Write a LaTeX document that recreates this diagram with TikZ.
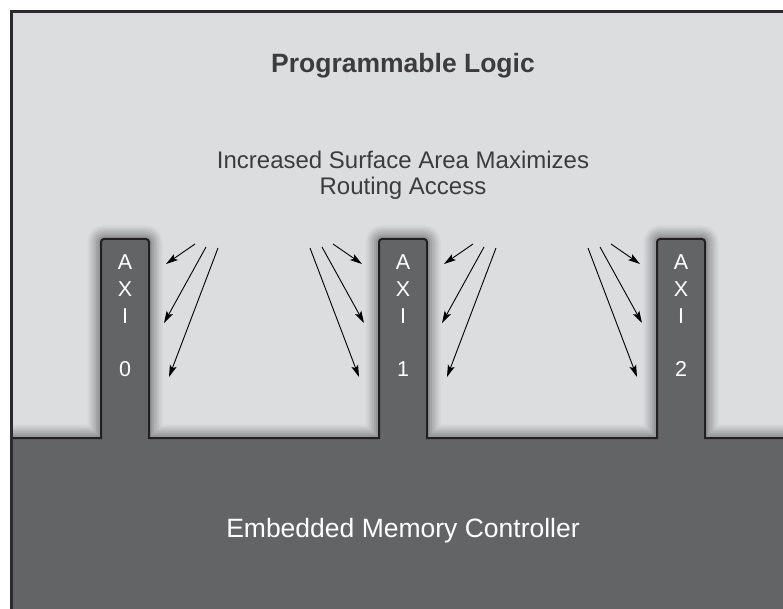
\documentclass[tikz,border=0pt]{standalone}
\usepackage{fontspec}
\setmainfont{Liberation Sans}
\usetikzlibrary{arrows.meta, positioning}
\definecolor{logicgray}{HTML}{DCDDDF}
\definecolor{ctrlgray}{HTML}{636466}
\definecolor{edgeblack}{HTML}{231F20}
\definecolor{textgray}{HTML}{3C3C3E}
\definecolor{glowa}{HTML}{D4D5D7}
\definecolor{glowb}{HTML}{CACBCD}
\definecolor{glowc}{HTML}{BEBFC1}
\definecolor{glowd}{HTML}{B1B2B4}
\definecolor{glowe}{HTML}{A3A4A6}
\definecolor{glowf}{HTML}{96979A}
\tikzstyle{axilabel} = [text=white, align=center, anchor=north, inner sep=0pt, font=\fontsize{21.5}{26.7}\selectfont]
\tikzstyle{heading} = [text=textgray, inner sep=0pt, anchor=base, font=\bfseries\fontsize{26.5}{30}\selectfont]
\tikzstyle{remark} = [text=textgray, inner sep=0pt, anchor=north, align=center, font=\fontsize{24}{26}\selectfont]
\tikzstyle{ctrltext} = [text=white, inner sep=0pt, anchor=base, font=\fontsize{26.5}{30}\selectfont]
\tikzstyle{arrow} = [line width=0.9pt, -{Stealth[length=12pt, width=7pt, inset=2.5pt]}]
\tikzstyle{glow} = [line join=round, line cap=butt]
\newcommand{\boundary}{(11,438) -- (101,438) [rounded corners=3pt] -- (101,239) -- (149,239) [sharp corners] -- (149,438)
  -- (379,438) [rounded corners=3pt] -- (379,239) -- (427,239) [sharp corners] -- (427,438)
  -- (657,438) [rounded corners=3pt] -- (657,239) -- (705,239) [sharp corners] -- (705,438) -- (790,438)}

\begin{document}
\begin{tikzpicture}[x=1pt, y=-1pt]
    \useasboundingbox (0,0) rectangle (783,609);
    \fill[white] (0,0) rectangle (783,609);

    % Areas and glow
    \begin{scope}
        \clip (11,11) rectangle (783,609);
        \fill[logicgray] (11,11) rectangle (783,609);
        \foreach \w/\c in {27/glowa, 23/glowb, 19/glowc, 15/glowd, 10/glowe, 6/glowf} {
            \draw[glow, line width=\w pt, draw=\c] \boundary;
        }
        \fill[ctrlgray] \boundary -- (790,620) -- (11,620) -- cycle;
        \draw[edgeblack, line width=2pt] \boundary;
    \end{scope}
    \draw[edgeblack!95, line width=3pt] (11.5,609) -- (11.5,11.5) -- (783,11.5);

    % Nodes
    \node (logic) [heading] at (403,73) {Programmable Logic};
    \node (routing) [remark] at (403,150.5) {Increased Surface Area Maximizes\\Routing Access};
    \node (axi0) [axilabel] at (125,255) {A\\X\\I\\[26.7pt]0};
    \node (axi1) [axilabel] at (403,255) {A\\X\\I\\[26.7pt]1};
    \node (axi2) [axilabel] at (681,255) {A\\X\\I\\[26.7pt]2};
    \node (memctrl) [ctrltext] at (403,537) {Embedded Memory Controller};

    % Arrows
    \foreach \cx/\s/\n in {149/1/a, 427/1/b, 379/-1/c, 657/-1/d} {
        \foreach \dx/\y/\ex/\ey [count=\i] in {46/244/17/264, 57/247/15/323, 69/248/20/377} {
            \coordinate (from\n\i) at (\cx+\s*\dx, \y);
            \coordinate (to\n\i) at (\cx+\s*\ex, \ey);
            \draw [arrow] (from\n\i) -- (to\n\i);
        }
    }

\end{tikzpicture}
\end{document}
